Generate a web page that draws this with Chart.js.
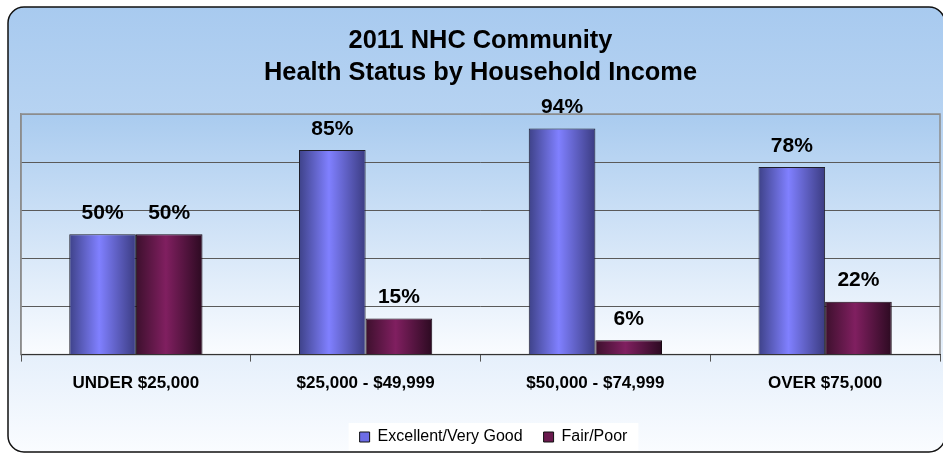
<!DOCTYPE html>
<html>
<head>
<meta charset="utf-8">
<title>2011 NHC Community Health Status by Household Income</title>
<script src="https://cdn.jsdelivr.net/npm/chart.js@4/dist/chart.umd.min.js"></script>
<style>
  html, body { margin: 0; padding: 0; background: #fff; }
  #wrap { width: 943px; height: 453px; }
</style>
</head>
<body>
<div id="wrap"><canvas id="healthChart" width="943" height="453"></canvas></div>
<script>
const incomeGroups = ['UNDER $25,000', '$25,000 - $49,999', '$50,000 - $74,999', 'OVER $75,000'];
const excellentVeryGood = [50, 85, 94, 78];
const fairPoor = [50, 15, 6, 22];
const gridSteps = [0, 20, 40, 60, 80, 100];

const CAT_PCT = 0.58;

// cylinder-like shading across each bar
function barShade(context, dark, light, darkRight) {
  const chart = context.chart;
  const x = chart.scales.x;
  if (!x || !chart.chartArea) return light;
  const center = x.getPixelForValue(context.dataIndex);
  const w = (x.width / incomeGroups.length) * CAT_PCT / 2;
  const left = center - w + context.datasetIndex * w;
  const g = chart.ctx.createLinearGradient(left, 0, left + w, 0);
  g.addColorStop(0, dark);
  g.addColorStop(0.45, light);
  g.addColorStop(1, darkRight);
  return g;
}

const backdrop = {
  id: 'backdrop',
  afterLayout(chart) {
    // nudge the legend a little right and down
    const lg = chart.legend;
    if (lg) {
      lg.left += 13; lg.right += 13;
      lg.top += 2; lg.bottom += 2;
    }
  },
  beforeDraw(chart) {
    const ctx = chart.ctx;
    const a = chart.chartArea;
    ctx.save();
    // outer frame
    const fg = ctx.createLinearGradient(0, 7, 0, 452);
    fg.addColorStop(0, '#a8caef');
    fg.addColorStop(0.35, '#bdd7f3');
    fg.addColorStop(1, '#fafcff');
    ctx.beginPath();
    ctx.roundRect(8, 7, 937, 445, 16);
    ctx.fillStyle = fg;
    ctx.fill();
    ctx.lineWidth = 1.5;
    ctx.strokeStyle = '#111';
    ctx.stroke();
    // plot area
    const pg = ctx.createLinearGradient(0, a.top, 0, a.bottom);
    pg.addColorStop(0, '#a9cbef');
    pg.addColorStop(1, '#fafcff');
    ctx.fillStyle = pg;
    ctx.fillRect(a.left, a.top, a.right - a.left, a.bottom - a.top);
    ctx.lineWidth = 1.5;
    ctx.strokeStyle = '#8c8c8c';
    ctx.strokeRect(a.left, a.top, a.right - a.left, a.bottom - a.top);
    // white panel behind legend items
    const boxes = chart.legend && chart.legend.legendHitBoxes;
    if (boxes && boxes.length) {
      const l = Math.min(...boxes.map(b => b.left));
      const r = Math.max(...boxes.map(b => b.left + b.width));
      const t = boxes[0].top;
      const h = boxes[0].height;
      ctx.fillStyle = '#ffffff';
      ctx.fillRect(l - 11, t + h / 2 - 14, r - l + 22, 28);
    }
    ctx.restore();
  }
};

const valueLabels = {
  id: 'valueLabels',
  afterDatasetsDraw(chart) {
    const ctx = chart.ctx;
    ctx.save();
    ctx.font = 'bold 21px "Liberation Sans", Arial, sans-serif';
    ctx.fillStyle = '#000';
    ctx.textAlign = 'center';
    ctx.textBaseline = 'middle';
    chart.data.datasets.forEach((ds, di) => {
      chart.getDatasetMeta(di).data.forEach((bar, i) => {
        ctx.fillText(ds.data[i] + '%', bar.x, bar.y - 21);
      });
    });
    ctx.restore();
  }
};

const legendFill = ['#6c6ce6', '#6a1a4e'];

new Chart(document.getElementById('healthChart'), {
  type: 'bar',
  data: {
    labels: incomeGroups,
    datasets: [
      {
        label: 'Excellent/Very Good',
        data: excellentVeryGood,
        backgroundColor: c => barShade(c, '#3e4289', '#8080ff', '#3b3c82'),
        borderColor: '#1e1e2a',
        borderWidth: 1,
        categoryPercentage: CAT_PCT,
        barPercentage: 1
      },
      {
        label: 'Fair/Poor',
        data: fairPoor,
        backgroundColor: c => barShade(c, '#3d102d', '#801f60', '#2c0a21'),
        borderColor: '#1a0a14',
        borderWidth: 1,
        categoryPercentage: CAT_PCT,
        barPercentage: 1
      }
    ]
  },
  options: {
    responsive: false,
    animation: false,
    layout: { padding: { left: 21, right: 3, top: 8, bottom: 0 } },
    plugins: {
      title: {
        display: true,
        text: ['2011 NHC Community', 'Health Status by Household Income'],
        color: '#000',
        font: { family: '"Liberation Sans", Arial, sans-serif', size: 25.4, weight: 'bold', lineHeight: 1.26 },
        padding: { top: 17, bottom: 25 }
      },
      legend: {
        position: 'bottom',
        labels: {
          color: '#000',
          font: { family: '"Liberation Sans", Arial, sans-serif', size: 16 },
          boxWidth: 10,
          boxHeight: 10,
          padding: 21,
          generateLabels(chart) {
            const items = Chart.defaults.plugins.legend.labels.generateLabels(chart);
            items.forEach((it, i) => {
              it.fillStyle = legendFill[i];
              it.strokeStyle = '#111';
              it.lineWidth = 1;
            });
            return items;
          }
        }
      },
      tooltip: { enabled: false }
    },
    scales: {
      x: {
        grid: { offset: true, drawOnChartArea: false, tickLength: 7, color: '#555' },
        border: { color: '#333', width: 1 },
        ticks: {
          color: '#000',
          padding: 12,
          font: { family: '"Liberation Sans", Arial, sans-serif', size: 17, weight: 'bold' }
        }
      },
      y: {
        min: 0,
        max: 100,
        afterBuildTicks(scale) {
          scale.ticks = gridSteps.map(v => ({ value: v }));
        },
        ticks: { display: false },
        grid: {
          drawTicks: false,
          color: c => (c.tick && c.tick.value === 100 ? '#8c8c8c' : '#5a5a5a'),
          lineWidth: 1
        },
        border: { color: '#8c8c8c', width: 1.5 }
      }
    }
  },
  plugins: [backdrop, valueLabels]
});
</script>
</body>
</html>
